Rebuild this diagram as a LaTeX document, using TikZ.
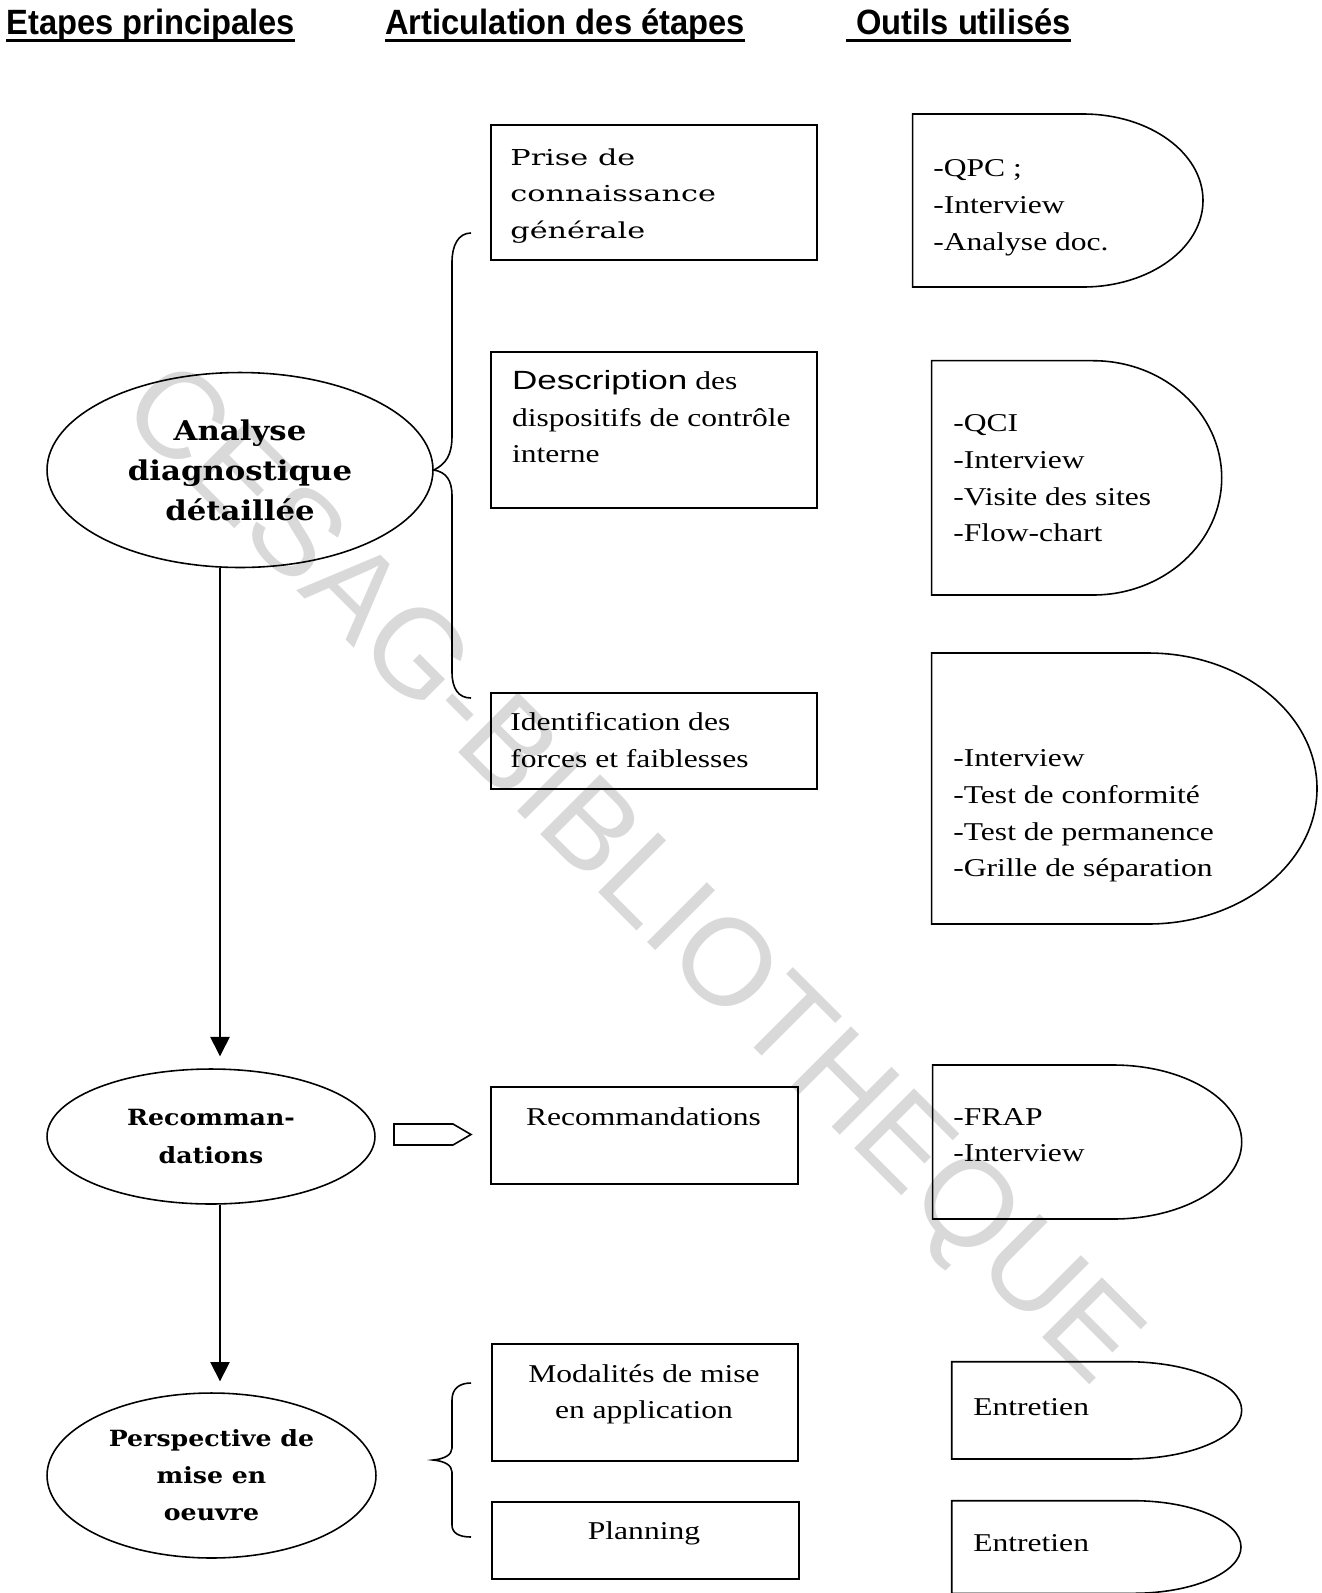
\documentclass[tikz,border=0pt]{standalone}
\usepackage{fontspec}
\setmainfont{Liberation Serif}[FakeStretch=1.23]
\newfontfamily\headfont{Liberation Sans}[FakeStretch=0.93]
\newfontfamily\descfont{Liberation Sans}[FakeStretch=1.33]
\newfontfamily\markfont{Liberation Sans}
\newfontfamily\bookfont{DejaVu Serif}[FakeStretch=1.38]
\newfontfamily\ovalfont{DejaVu Serif}[FakeStretch=1.13]
\usetikzlibrary{shapes.geometric,arrows.meta,positioning,calc}
\tikzset{
	stage/.style={ellipse, draw=black, line width=0.9pt, inner sep=0pt, align=center},
	stepbox/.style={rectangle, draw=black, line width=0.9pt, inner sep=0pt},
	txt/.style={inner sep=0pt, align=left, anchor=north west, font=\fontsize{14.6}{20.8}\selectfont},
	head/.style={inner sep=0pt, anchor=base west, font=\headfont\bfseries\fontsize{20}{24}\selectfont},
	uline/.style={line width=1.6pt},
	tool/.style={draw=black, line width=0.9pt},
	flow/.style={-{Triangle[length=11pt,width=11pt]}, line width=0.8pt},
	brace/.style={line width=0.9pt}
}

\begin{document}
\begin{tikzpicture}[x=0.02cm, y=-0.02cm]
\useasboundingbox (0,0) rectangle (1322,1593);
% watermark of the scan
\node[text=black!15, rotate=-45, inner sep=0pt, font=\markfont\fontsize{70}{80}\selectfont] (wmark) at (628,878) {CESAG-BIBLIOTHEQUE};

% column titles
\node[head] (H1) at (6,34) {Etapes principales};
\node[head] (H2) at (385,34) {Articulation des étapes};
\node[head] (H3) at (856,34) {Outils utilisés};
\draw[uline] ([yshift=-3.5pt]H1.base west) -- ([yshift=-3.5pt]H1.base east);
\draw[uline] ([yshift=-3.5pt]H2.base west) -- ([yshift=-3.5pt]H2.base east);
\draw[uline] ([xshift=-5.7pt,yshift=-3.5pt]H3.base west) -- ([yshift=-3.5pt]H3.base east);

% main steps
\node[stage, minimum width=7.72cm, minimum height=3.9cm, font=\ovalfont\bfseries\fontsize{15.5}{22.7}\selectfont] (E1) at (240,470) {Analyse\\diagnostique\\détaillée};
\node[stage, minimum width=6.56cm, minimum height=2.7cm, font=\ovalfont\bfseries\fontsize{12.7}{21.1}\selectfont] (E2) at (211,1136.5) {Recomman-\\dations};
\node[stage, minimum width=6.58cm, minimum height=3.3cm, font=\ovalfont\bfseries\fontsize{12.7}{21.1}\selectfont] (E3) at (211.5,1475.5) {Perspective de\\mise en\\oeuvre};

\coordinate (ax) at (220,0);
\draw[flow, shorten >=6.8pt] (E1.south -| ax) -- (E2.north -| ax);
\draw[flow, shorten >=6.2pt] (E2.south -| ax) -- (E3.north -| ax);

% steps
\node[stepbox, minimum width=6.52cm, minimum height=2.7cm, anchor=north west] (B1) at (490,124) {};
\node[stepbox, minimum width=6.52cm, minimum height=3.12cm, anchor=north west] (B2) at (490,351) {};
\node[stepbox, minimum width=6.52cm, minimum height=1.92cm, anchor=north west] (B3) at (490,692) {};
\node[stepbox, minimum width=6.14cm, minimum height=1.94cm, anchor=north west] (B4) at (490,1086) {};
\node[stepbox, minimum width=6.12cm, minimum height=2.34cm, anchor=north west] (B5) at (491,1343) {};
\node[stepbox, minimum width=6.14cm, minimum height=1.54cm, anchor=north west] (B6) at (491,1501) {};

\node[txt, font=\bookfont\fontsize{12.5}{20.8}\selectfont] (B1t) at (510,139.3) {\strut Prise de\\connaissance\\générale};
\node[txt] (B2t) at (511.7,363.6) {\strut{\descfont\fontsize{15}{20.8}\selectfont Description} des\\dispositifs de contrôle\\interne};
\node[txt] (B3t) at (510,704.8) {\strut Identification des\\forces et faiblesses};
\node[txt, anchor=north, align=center] (B4t) at (643.5,1099.3) {\strut Recommandations};
\node[txt, anchor=north, align=center] (B5t) at (644,1356.3) {\strut Modalités de mise\\en application};
\node[txt, anchor=north, align=center] (B6t) at (644,1513.3) {\strut Planning};

% braces
\coordinate (br1t) at (471,233);
\coordinate (br1b) at (471,698);
\draw[brace] (br1t) .. controls (458,233) and (452,246) .. (452,262) -- (452,436)
  .. controls (452,455) and (446,464) .. (E1.east)
  .. controls (446,472) and (452,480) .. (452,496) -- (452,672)
  .. controls (452,688) and (458,698) .. (br1b);
\coordinate (br2t) at (471,1383);
\coordinate (br2m) at (433,1460);
\coordinate (br2b) at (471,1537);
\draw[brace] (br2t) .. controls (459,1383) and (452,1389) .. (452,1400) -- (452,1448)
  .. controls (452,1455) and (444,1459) .. (br2m)
  .. controls (444,1461) and (452,1465) .. (452,1472) -- (452,1525)
  .. controls (452,1533) and (459,1537) .. (br2b);

% hollow arrow
\draw[line width=0.9pt] (394,1124) -- (453,1124) -- (471,1134.5) -- (453,1145) -- (394,1145) -- cycle;

% tools
\draw[tool] (912.7,114) -- (1083,114) arc[start angle=-90, end angle=90, x radius=120, y radius=86.5] -- (912.7,287) -- cycle;
\draw[tool] (931.7,360.7) -- (1093,360.7) arc[start angle=-90, end angle=90, x radius=128.7, y radius=117.15] -- (931.7,595) -- cycle;
\draw[tool] (931.7,653) -- (1148,653) arc[start angle=-90, end angle=90, x radius=169, y radius=135.5] -- (931.7,924) -- cycle;
\draw[tool] (932.7,1065) -- (1113,1065) arc[start angle=-90, end angle=90, x radius=128.7, y radius=77] -- (932.7,1219) -- cycle;
\draw[tool] (951.7,1361.7) -- (1126.7,1361.7) arc[start angle=-90, end angle=90, x radius=115, y radius=48.65] -- (951.7,1459) -- cycle;
\draw[tool] (951.7,1500.7) -- (1133,1500.7) arc[start angle=-90, end angle=90, x radius=108, y radius=46.3] -- (951.7,1593.3) -- cycle;

\node[txt] (T1t) at (933,151) {\strut -QPC ;\\-Interview\\-Analyse doc.};
\node[txt] (T2t) at (953,406) {\strut -QCI\\-Interview\\-Visite des sites\\-Flow-chart};
\node[txt] (T3t) at (953,741) {\strut -Interview\\-Test de conformité\\-Test de permanence\\-Grille de séparation};
\node[txt] (T4t) at (953,1099.3) {\strut -FRAP\\-Interview};
\node[txt] (T5t) at (973,1389.3) {\strut Entretien};
\node[txt] (T6t) at (973,1526) {\strut Entretien};
\end{tikzpicture}
\end{document}
